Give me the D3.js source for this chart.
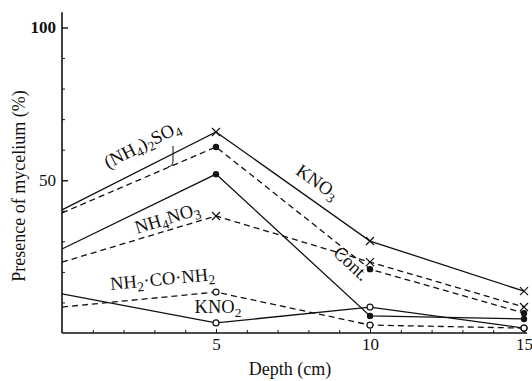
<!DOCTYPE html>
<html>
<head>
<meta charset="utf-8">
<script src="https://cdn.jsdelivr.net/npm/d3@7"></script>
<style>
  html, body { margin: 0; padding: 0; background: #fff; }
  svg { display: block; }
  text { font-family: "Liberation Serif", "DejaVu Serif", serif; fill: #111; }
</style>
</head>
<body>
<svg id="chart" width="532" height="381"></svg>
<script>
// Depth in cm
const depths = [0, 5, 10, 15];

// Presence of mycelium (%) for each nitrogen source
const kno3      = [40.3, 65.8, 30.1, 13.7];
const nh4so4    = [39.3, 60.9, 20.9, 6.5];
const nh4no3    = [23.2, 38.3, 23.2, 8.5];
const control   = [27.5, 52.0, 5.6, 4.6];
const urea      = [8.5, 13.4, 2.6, 1.6];
const kno2      = [12.8, 3.3, 8.5, 1.6];

const xTicks = [5, 10, 15];
const yTicks = [50, 100];

const series = [
  { name: "KNO3",      values: kno3,    dashed: false, marker: "cross" },
  { name: "(NH4)2SO4", values: nh4so4,  dashed: true,  marker: "dot" },
  { name: "NH4NO3",    values: nh4no3,  dashed: true,  marker: "cross" },
  { name: "Cont.",     values: control, dashed: false, marker: "dot" },
  { name: "NH2CONH2",  values: urea,    dashed: true,  marker: "ring" },
  { name: "KNO2",      values: kno2,    dashed: false, marker: "ring" }
];

const svg = d3.select("#chart");
const x = d3.scaleLinear().domain([0, 15]).range([62, 524]);
const y = d3.scaleLinear().domain([0, 100]).range([333, 27.5]);

// Axes
const gx = svg.append("g").attr("transform", `translate(0,${y(0)})`)
  .call(d3.axisBottom(x).tickValues(d3.range(1, 16)).tickSize(-3).tickPadding(5)
    .tickFormat(d => xTicks.includes(d) ? d : ""));
gx.select(".domain").remove();
gx.selectAll(".tick line").attr("stroke", "#111").attr("y2", d => xTicks.includes(d) ? -4 : -3);
gx.selectAll(".tick text").attr("font-size", 17).attr("fill", "#111");

const gy = svg.append("g").attr("transform", `translate(${x(0)},0)`)
  .call(d3.axisLeft(y).tickValues(d3.range(10, 101, 10)).tickSize(-3).tickPadding(6)
    .tickFormat(d => yTicks.includes(d) ? d : ""));
gy.select(".domain").remove();
gy.selectAll(".tick line").attr("stroke", "#111").attr("x2", d => yTicks.includes(d) ? 6 : 3).attr("stroke-width", d => yTicks.includes(d) ? 1.4 : 1);
gy.selectAll(".tick text").attr("font-size", 17).attr("fill", "#111")
  .attr("font-weight", d => d === 100 ? "bold" : "normal");

svg.append("line").attr("x1", x(0)).attr("x2", x(0)).attr("y1", y(0)).attr("y2", y(105))
  .attr("stroke", "#111").attr("stroke-width", 1.6);
svg.append("line").attr("x1", x(0)).attr("x2", x(15.1)).attr("y1", y(0)).attr("y2", y(0))
  .attr("stroke", "#111").attr("stroke-width", 1.6);

// Axis titles
svg.append("text").attr("x", 290).attr("y", 375).attr("text-anchor", "middle")
  .attr("font-size", 18).text("Depth (cm)");
svg.append("text").attr("transform", "translate(25,186) rotate(-90)").attr("text-anchor", "middle")
  .attr("font-size", 18).text("Presence of mycelium (%)");

// Lines
const line = d3.line().x((d, i) => x(depths[i])).y(d => y(d));
series.forEach(s => {
  svg.append("path").datum(s.values).attr("d", line)
    .attr("fill", "none").attr("stroke", "#111").attr("stroke-width", 1.3)
    .attr("stroke-dasharray", s.dashed ? "6,4" : null);
});

// Markers (not drawn at depth 0)
series.forEach(s => {
  const pts = s.values.map((v, i) => [x(depths[i]), y(v)]).slice(1);
  pts.forEach(([px, py]) => {
    if (s.marker === "cross") {
      svg.append("path").attr("d", `M${px-4},${py-4}L${px+4},${py+4}M${px+4},${py-4}L${px-4},${py+4}`)
        .attr("stroke", "#111").attr("stroke-width", 1.2);
    } else if (s.marker === "dot") {
      svg.append("circle").attr("cx", px).attr("cy", py).attr("r", 3.2).attr("fill", "#111");
    } else {
      svg.append("circle").attr("cx", px).attr("cy", py).attr("r", 3).attr("fill", "#fff")
        .attr("stroke", "#111").attr("stroke-width", 1.2);
    }
  });
});

// Series labels
function label(cx, cy, angle, parts) {
  const t = svg.append("text").attr("transform", `translate(${cx},${cy}) rotate(${angle})`)
    .attr("text-anchor", "middle").attr("font-size", 18.5);
  parts.forEach(p => {
    const ts = t.append("tspan").text(p[0]);
    if (p[1]) ts.attr("font-size", 13.5).attr("dy", 4);
    else if (p[2]) ts.attr("dy", -4);
  });
}
label(145, 150, -27, [["(NH"], ["4", true], [")", false, true], ["2", true], ["SO", false, true], ["4", true]]);
label(314, 187, 35, [["KNO"], ["3", true]]);
label(169, 224, -17, [["NH"], ["4", true], ["NO", false, true], ["3", true]]);
label(347, 268, 43, [["Cont."]]);
label(163, 285, -5.5, [["NH"], ["2", true], ["·CO·NH", false, true], ["2", true]]);
label(218, 313, 0, [["KNO"], ["2", true]]);

// Pointer from the (NH4)2SO4 label to its line
svg.append("path").attr("d", "M173,146 L173,161 Q173,166 168,167")
  .attr("fill", "none").attr("stroke", "#111").attr("stroke-width", 1);
</script>
</body>
</html>
